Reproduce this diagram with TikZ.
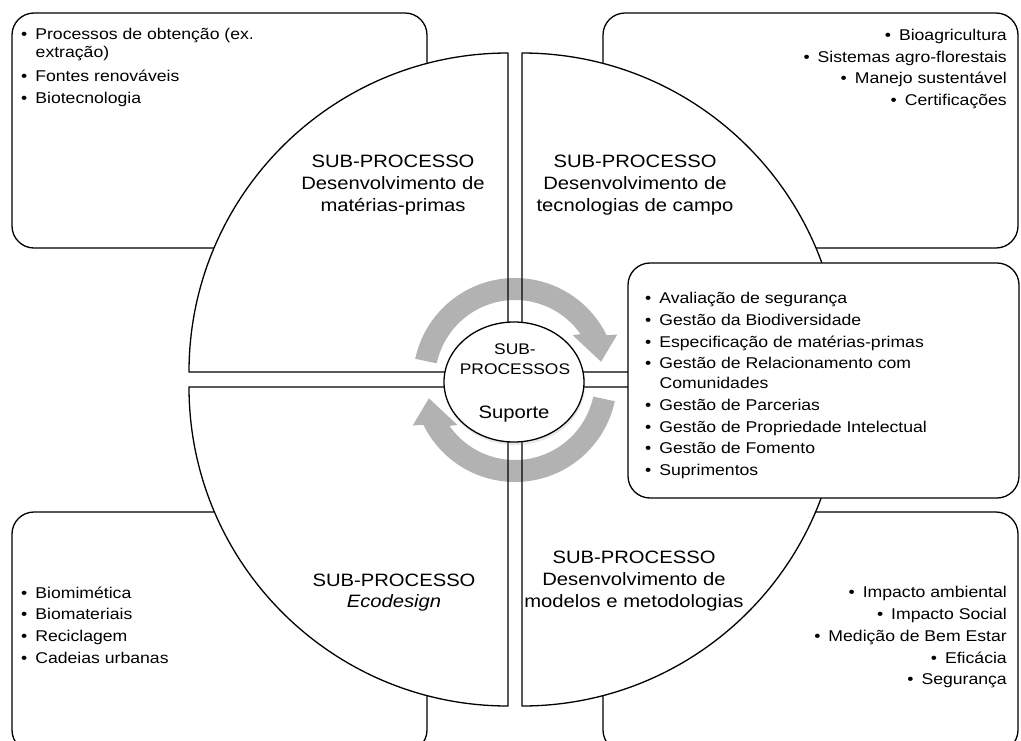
\documentclass[tikz,border=0pt]{standalone}
\usepackage{fontspec}
\setmainfont{Liberation Sans}[FakeStretch=1.13]
\usetikzlibrary{shapes.geometric,calc,shadows}

\tikzset{
  box/.style={draw=black, line width=1.3pt, fill=white, rounded corners=22pt},
  quad/.style={draw=black, line width=1.3pt, fill=white, line join=round},
  cyclearrow/.style={fill=black, fill opacity=0.3},
  hub/.style={ellipse, draw=black, line width=1.3pt, fill=white,
    minimum width=140pt, minimum height=120pt, inner sep=0pt,
    drop shadow={shadow xshift=1pt, shadow yshift=-3pt, opacity=0.18}},
  sm/.style={font=\fontsize{15.6}{18}\selectfont, inner sep=0pt},
  lg/.style={font=\fontsize{17.9}{21.6}\selectfont, inner sep=0pt},
  lb/.style={sm, anchor=base west},
  rb/.style={sm, anchor=base east},
  qt/.style={lg, anchor=base},
}
\newcommand{\bl}{•\hspace{8pt}}

\begin{document}
\begin{tikzpicture}[x=1pt,y=-1pt]
\useasboundingbox (0,0) rectangle (1021,740);
\fill[white] (0,0) rectangle (1021,740);
\clip (0,0) rectangle (1021,740);

% outer list boxes
\draw[box] (12,13) rectangle (427,248);
\draw[box] (603,13) rectangle (1018,248);
\draw[box] (12,512) rectangle (427,752);
\draw[box] (603,512) rectangle (1018,752);

% four quarter discs of the cycle
\draw[quad] (508,372) -- (189,372) arc[start angle=180, end angle=270, radius=319] -- cycle;
\draw[quad] (522,372) -- (522,53) arc[start angle=270, end angle=360, radius=319] -- cycle;
\draw[quad] (508,387) -- (508,706) arc[start angle=90, end angle=180, radius=319] -- cycle;
\draw[quad] (522,387) -- (841,387) arc[start angle=0, end angle=90, radius=319] -- cycle;

% support list box
\draw[box] (628,263) rectangle (1019,498);

% circular arrows around the hub
\coordinate (C) at (515,380);
\fill[cyclearrow] ($(C)+(-168:102)$) arc[start angle=-168, end angle=-26, radius=102]
  -- ($(C)+(-24:112)$) -- ($(C)+(-12:88)$) -- ($(C)+(-38:73)$) -- ($(C)+(-35:80)$)
  arc[start angle=-35, end angle=-168, radius=80] -- cycle;
\fill[cyclearrow] ($(C)+(12:102)$) arc[start angle=12, end angle=154, radius=102]
  -- ($(C)+(156:112)$) -- ($(C)+(168:88)$) -- ($(C)+(142:73)$) -- ($(C)+(145:80)$)
  arc[start angle=145, end angle=12, radius=80] -- cycle;

% hub
\node[hub] (hub) at (514,382) {};
\node[sm, anchor=base, font=\fontsize{15.4}{18}\selectfont] (hub1) at (515,354) {SUB-};
\node[sm, anchor=base, font=\fontsize{15.4}{18}\selectfont] (hub2) at (515,374.5) {PROCESSOS};
\node[qt] (hub3) at (514,418) {Suporte};

% quadrant titles
\node[qt] (q1a) at (393,167) {SUB-PROCESSO};
\node[qt] (q1b) at (393,189) {Desenvolvimento de};
\node[qt] (q1c) at (393,211) {matérias-primas};

\node[qt] (q2a) at (635,167) {SUB-PROCESSO};
\node[qt] (q2b) at (635,189) {Desenvolvimento de};
\node[qt] (q2c) at (635,211) {tecnologias de campo};

\node[qt] (q3a) at (394,586) {SUB-PROCESSO};
\node[qt] (q3b) at (394,607.5) {\itshape Ecodesign};

\node[qt] (q4a) at (634,563.5) {SUB-PROCESSO};
\node[qt] (q4b) at (634,585) {Desenvolvimento de};
\node[qt] (q4c) at (634,607) {modelos e metodologias};

% top-left list
\node[lb] (a1) at (21,39.3) {\bl Processos de obtenção (ex.};
\node[lb] (a1b) at (35.5,57.3) {extração)};
\node[lb] (a2) at (21,81.7) {\bl Fontes renováveis};
\node[lb] (a3) at (21,103.3) {\bl Biotecnologia};

% top-right list
\node[rb] (b1) at (1007,40.5) {\bl Bioagricultura};
\node[rb] (b2) at (1007,62) {\bl Sistemas agro-florestais};
\node[rb] (b3) at (1007,83.5) {\bl Manejo sustentável};
\node[rb] (b4) at (1007,105) {\bl Certificações};

% support list
\node[lb] (s1) at (645,303) {\bl Avaliação de segurança};
\node[lb] (s2) at (645,325) {\bl Gestão da Biodiversidade};
\node[lb] (s3) at (645,347) {\bl Especificação de matérias-primas};
\node[lb] (s4) at (645,368) {\bl Gestão de Relacionamento com};
\node[lb] (s4b) at (659.5,388) {Comunidades};
\node[lb] (s5) at (645,410) {\bl Gestão de Parcerias};
\node[lb] (s6) at (645,432) {\bl Gestão de Propriedade Intelectual};
\node[lb] (s7) at (645,453) {\bl Gestão de Fomento};
\node[lb] (s8) at (645,475) {\bl Suprimentos};

% bottom-left list
\node[lb] (c1) at (21,598) {\bl Biomimética};
\node[lb] (c2) at (21,619.5) {\bl Biomateriais};
\node[lb] (c3) at (21,641) {\bl Reciclagem};
\node[lb] (c4) at (21,663) {\bl Cadeias urbanas};

% bottom-right list
\node[rb] (d1) at (1007,597) {\bl Impacto ambiental};
\node[rb] (d2) at (1007,619) {\bl Impacto Social};
\node[rb] (d3) at (1007,641) {\bl Medição de Bem Estar};
\node[rb] (d4) at (1007,663) {\bl Eficácia};
\node[rb] (d5) at (1007,684) {\bl Segurança};
\end{tikzpicture}
\end{document}
